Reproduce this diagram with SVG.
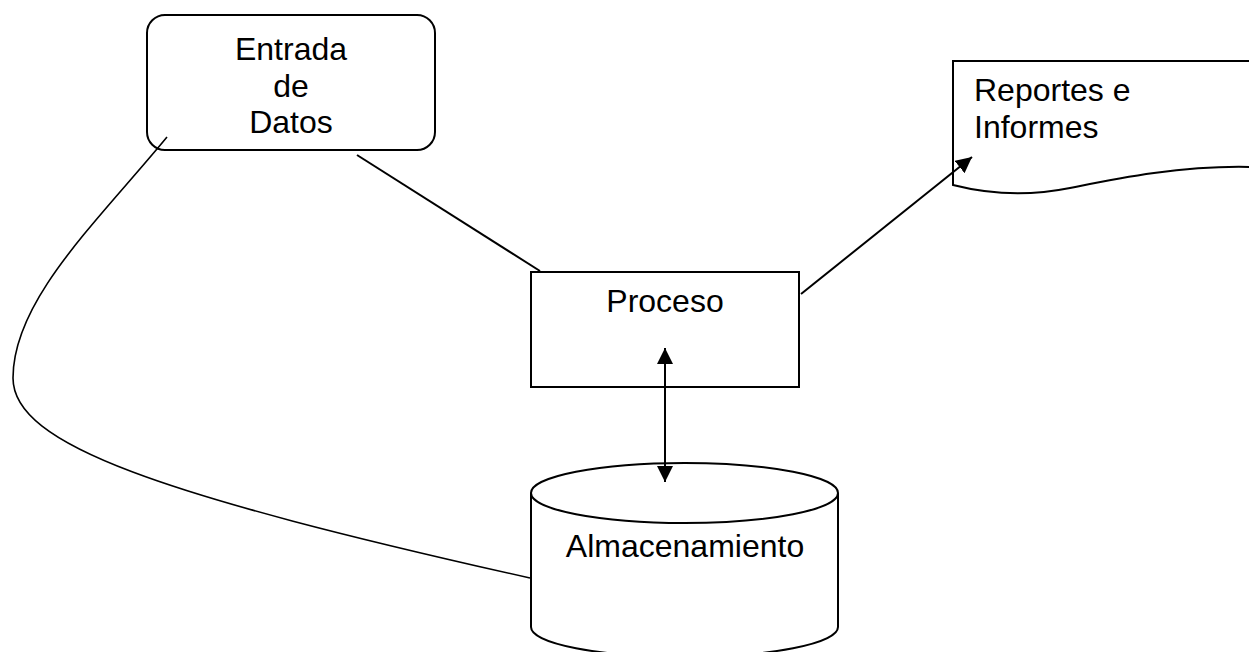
<svg xmlns="http://www.w3.org/2000/svg" width="1249" height="652" viewBox="0 0 1249 652">
  <style>
    .shape { fill: #ffffff; stroke: #000000; stroke-width: 2; }
    .label { font-family: "Liberation Sans", Arial, sans-serif; font-size: 32px; fill: #000000; }
    .link { fill: none; stroke: #000000; stroke-width: 2; }
    .thin { fill: none; stroke: #000000; stroke-width: 1.6; }
  </style>
  <defs>
    <marker id="arrowBig" viewBox="0 0 16 16" refX="16" refY="8" markerWidth="16" markerHeight="16" markerUnits="userSpaceOnUse" orient="auto-start-reverse">
      <path d="M0,0 L16,8 L0,16 Z" fill="#000000"/>
    </marker>
  </defs>

  <rect width="1249" height="652" fill="#ffffff"/>

  <g id="node-entrada">
    <rect class="shape" x="147" y="15" width="288" height="135" rx="18" ry="18"/>
    <text class="label" x="291" y="60" text-anchor="middle">Entrada</text>
    <text class="label" x="291" y="97" text-anchor="middle">de</text>
    <text class="label" x="291" y="133" text-anchor="middle">Datos</text>
  </g>

  <g id="node-reportes">
    <path class="shape" d="M953,61 H1252 V167 C1180,165 1110,180 1070,188 C1040,194 1000,197 953,185 Z"/>
    <text class="label" x="974" y="101">Reportes e</text>
    <text class="label" x="974" y="138">Informes</text>
  </g>

  <g id="node-proceso">
    <rect class="shape" x="531" y="272" width="268" height="115"/>
    <text class="label" x="665" y="312" text-anchor="middle">Proceso</text>
  </g>

  <g id="node-almacenamiento">
    <path class="shape" d="M531,493 V627 A153.5,30 0 0 0 838,627 V493"/>
    <ellipse class="shape" cx="684.5" cy="493" rx="153.5" ry="30"/>
    <text class="label" x="685" y="557" text-anchor="middle">Almacenamiento</text>
  </g>

  <g id="connectors">
    <line class="link" x1="357" y1="155" x2="540" y2="271"/>
    <line class="link" x1="801" y1="294" x2="972" y2="157" marker-end="url(#arrowBig)"/>
    <line class="link" x1="665" y1="348" x2="665" y2="482" marker-start="url(#arrowBig)" marker-end="url(#arrowBig)"/>
    <path class="thin" d="M167,137 C97,222 13,300 13,378 C13,445 160,495 530,578"/>
  </g>
</svg>
